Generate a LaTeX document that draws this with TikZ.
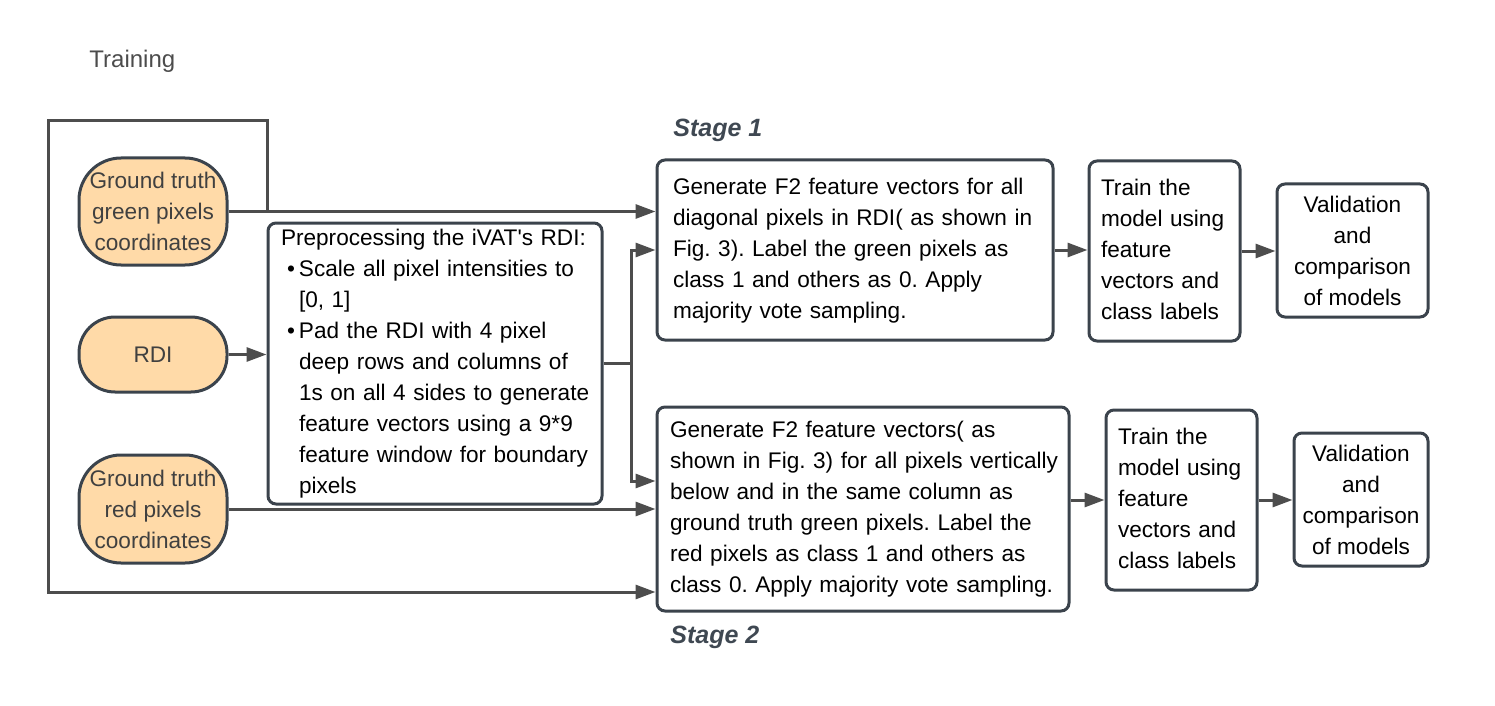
\documentclass[tikz,border=0pt]{standalone}
\usepackage{fontspec}
\setmainfont{Liberation Sans}
\usepackage{xcolor}
\usetikzlibrary{arrows.meta,positioning,calc}
\definecolor{edgegray}{HTML}{3B434C}
\definecolor{arrowgray}{HTML}{4D4D4D}
\definecolor{ovalfill}{HTML}{FFDAA8}
\definecolor{stagegray}{HTML}{3F4852}
\newcommand{\rows}[1]{\begin{tabular}{@{}l@{}}#1\end{tabular}}
\newcommand{\bitem}{\hspace*{3pt}\makebox[6pt][l]{\textbullet}}
\newcommand{\bcont}{\hspace*{9pt}}
\frenchspacing

\begin{document}
\begin{tikzpicture}[x=0.5pt,y=-0.5pt,
  every node/.style={font=\fontsize{11.3}{15.5}\selectfont},
  oval/.style={draw=edgegray, line width=1.5pt, fill=ovalfill, rounded corners=21pt, align=center, inner sep=0pt, text=black!75, minimum width=74pt},
  stepbox/.style={draw=edgegray, line width=1.5pt, rounded corners=4pt, fill=white, align=left},
  arr/.style={draw=arrowgray, line width=1.5pt, -{Triangle[length=10pt,width=7pt]}},
  line/.style={draw=arrowgray, line width=1.5pt},
  stagelabel/.style={anchor=west, inner sep=0pt, font=\fontsize{12.5}{15}\selectfont\bfseries\itshape, text=stagegray}]
  \useasboundingbox (0,0) rectangle (1495,706);

  \node[anchor=west, inner sep=0pt, font=\fontsize{12}{14}\selectfont, text=black!70] (training) at (89,61) {Training};
  \node[stagelabel] (stageonelabel) at (673,130) {Stage 1};
  \node[stagelabel] (stagetwolabel) at (670,637) {Stage 2};

  % inputs
  \node[oval, minimum height=53.5pt] (gtgreen) at (153,211.5) {Ground truth\\green pixels\\coordinates};
  \node[oval, rounded corners=18pt, minimum height=37.5pt] (rdi) at (153,354.5) {RDI};
  \node[oval, minimum height=54pt] (gtred) at (153,509) {Ground truth\\red pixels\\coordinates};

  \node[stepbox, minimum width=167pt, minimum height=140.5pt, text width=154pt, inner xsep=6.5pt, inner ysep=0pt] (prep) at (435,363.5)
    {\rows{Preprocessing the iVAT\textquotesingle s RDI:\\
      \bitem Scale all pixel intensities to\\
      \bcont [0, 1]\\
      \bitem Pad the RDI with 4 pixel\\
      \bcont deep rows and columns of\\
      \bcont 1s on all 4 sides to generate\\
      \bcont feature vectors using a 9*9\\
      \bcont feature window for boundary\\
      \bcont pixels}};

  % stage 1
  \node[stepbox, minimum width=198pt, minimum height=90pt, text width=182pt, inner xsep=8pt] (stageone) at (855,250)
    {\rows{Generate F2 feature vectors for all\\
      diagonal pixels in RDI( as shown in\\
      Fig. 3). Label the green pixels as\\
      class 1 and others as 0. Apply\\
      majority vote sampling.}};
  \node[stepbox, minimum width=75.5pt, minimum height=90pt, text width=63.5pt, inner xsep=6pt] (trainone) at (1164.5,251)
    {\rows{Train the\\model using\\feature\\vectors and\\class labels}};
  \node[stepbox, align=center, minimum width=75.5pt, minimum height=66.5pt, inner sep=0pt] (valone) at (1352.5,250.5)
    {Validation\\and\\comparison\\of models};

  % stage 2
  \node[stepbox, minimum width=206pt, minimum height=102pt, text width=193pt, inner xsep=6.5pt] (stagetwo) at (863,509)
    {\rows{Generate F2 feature vectors( as\\
      shown in Fig. 3) for all pixels vertically\\
      below and in the same column as\\
      ground truth green pixels. Label the\\
      red pixels as class 1 and others as\\
      class 0. Apply majority vote sampling.}};
  \node[stepbox, minimum width=75.5pt, minimum height=90pt, text width=63.5pt, inner xsep=6pt] (traintwo) at (1181.5,500)
    {\rows{Train the\\model using\\feature\\vectors and\\class labels}};
  \node[stepbox, align=center, minimum width=67pt, minimum height=66.5pt, inner sep=0pt] (valtwo) at (1361,499.5)
    {Validation\\and\\comparison\\of models};

  % connectors
  \coordinate (loopne) at (267,121);
  \coordinate (loopsw) at (48,592);
  \coordinate[right=14pt of prep.east] (split);
  \draw[arr] (gtgreen.east) -- (gtgreen.east -| stageone.west);
  \draw[arr] (gtgreen.east -| loopne) -- (loopne) -| (loopsw) -- (loopsw -| stagetwo.west);
  \draw[arr] (rdi.east) -- (rdi.east -| prep.west);
  \draw[line] (prep.east) -- (split);
  \draw[arr] (split) |- (stageone.west);
  \draw[arr] (split) |- ([yshift=14pt]stagetwo.west);
  \draw[arr] (gtred.east) -- (gtred.east -| stagetwo.west);
  \draw[arr] (stageone.east) -- (stageone.east -| trainone.west);
  \draw[arr] (trainone.east) -- (trainone.east -| valone.west);
  \draw[arr] (traintwo.west -| stagetwo.east) -- (traintwo.west);
  \draw[arr] (traintwo.east) -- (traintwo.east -| valtwo.west);
\end{tikzpicture}
\end{document}
